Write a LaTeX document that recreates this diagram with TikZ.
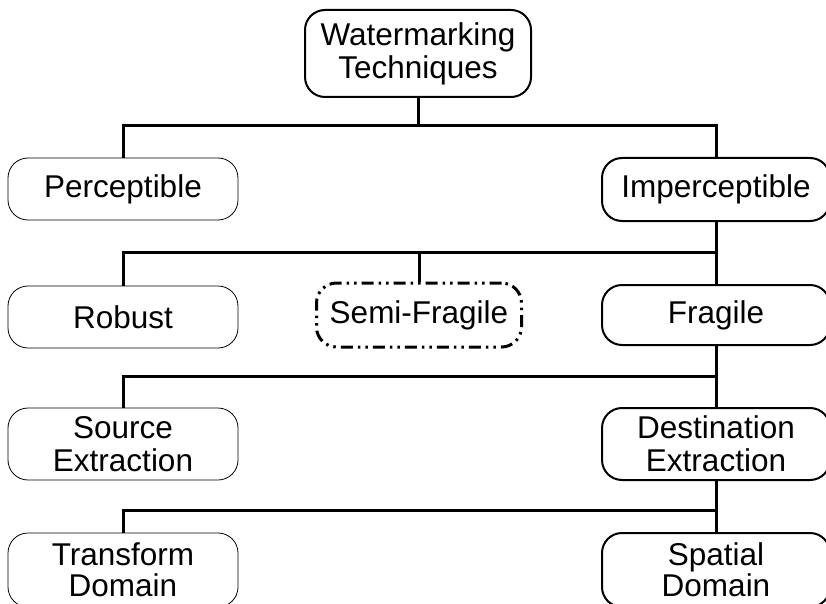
\documentclass[tikz,border=0pt]{standalone}
\usepackage{fontspec}
\setmainfont{Liberation Sans}
\begin{document}
\begin{tikzpicture}[x=1pt,y=-1pt,
  box/.style={draw, rounded corners=20pt, align=center, inner sep=0pt,
    font=\fontsize{31.5}{33}\selectfont, minimum width=228pt},
  thinbox/.style={box, line width=0.8pt, minimum width=230pt},
  thickbox/.style={box, line width=2pt},
  dashbox/.style={box, line width=3pt, minimum width=205pt,
    dash pattern=on 12pt off 5pt on 2.5pt off 5pt on 2.5pt off 5pt},
  link/.style={line width=3pt}]
\useasboundingbox (0,0) rectangle (826,604);
\clip (0,0) rectangle (826,604);

% nodes of the classification tree
\node[thickbox, minimum width=226pt, minimum height=87pt] (wt) at (418,53.5) {Watermarking\\Techniques};
\node[thinbox, minimum height=62pt] (perc) at (123,189) {Perceptible};
\node[thickbox, minimum height=63pt] (imp) at (716,189.5) {Imperceptible};
\node[thinbox, minimum height=62pt] (rob) at (123,317) {Robust};
\node[dashbox, minimum height=64pt] (semi) at (419,315) {Semi-Fragile};
\node[thickbox, minimum height=60pt] (frag) at (716,315) {Fragile};
\node[thinbox, minimum height=72pt] (src) at (123,444) {Source\\Extraction};
\node[thickbox, minimum height=72pt] (dst) at (716,444) {Destination\\Extraction};
\node[thinbox, minimum height=74pt, font=\fontsize{31.5}{31}\selectfont] (tdom) at (123,570) {Transform\\Domain};
\node[thickbox, minimum height=74pt, font=\fontsize{31.5}{31}\selectfont] (sdom) at (716,570) {Spatial\\Domain};

% junction points of the branches
\coordinate (j1) at (418,126);
\coordinate (j2) at (716,252);
\coordinate (j3) at (716,376);
\coordinate (j4) at (716,510);

% connectors
\draw[link] (wt.south) -- (j1);
\draw[link] (j1) -| (perc.north);
\draw[link] (j1) -| (imp.north);
\draw[link] (imp.south) -- (j2);
\draw[link] (j2) -| (rob.north);
\draw[link] (j2) -| (semi.north);
\draw[link] (j2) -- (frag.north);
\draw[link] (frag.south) -- (j3);
\draw[link] (j3) -| (src.north);
\draw[link] (j3) -- (dst.north);
\draw[link] (dst.south) -- (j4);
\draw[link] (j4) -| (tdom.north);
\draw[link] (j4) -- (sdom.north);
\end{tikzpicture}
\end{document}
